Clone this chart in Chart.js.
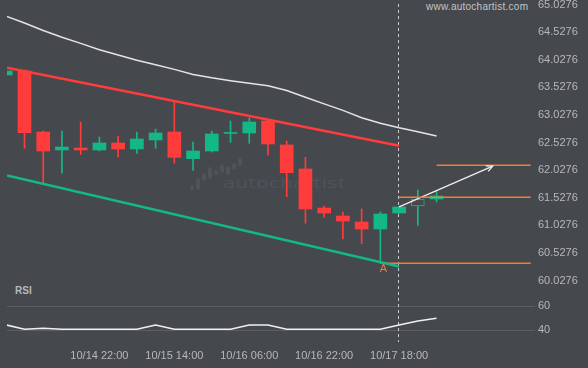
<!DOCTYPE html>
<html>
<head>
<meta charset="utf-8">
<script src="https://cdn.jsdelivr.net/npm/chart.js@4.4.0/dist/chart.umd.min.js"></script>
<style>
  html, body { margin: 0; padding: 0; background: #45484d; }
  #wrap { position: relative; width: 588px; height: 368px; overflow: hidden; background: #45484d; font-family: "Liberation Sans", Arial, sans-serif; }
  #priceChart { position: absolute; left: 0; top: 0; }
  #rsiChart { position: absolute; left: 0; top: 286px; }
  .txt { position: absolute; white-space: nowrap; }
  .logo { position: absolute; background: #505358; border-radius: 2px; }
</style>
</head>
<body>
<div id="wrap">
  <div class="logo" style="left:190px;top:185px;width:4px;height:5px"></div>
  <div class="logo" style="left:196px;top:178px;width:4px;height:12px"></div>
  <div class="logo" style="left:202px;top:173px;width:4px;height:8px"></div>
  <div class="logo" style="left:208px;top:167px;width:4px;height:12px"></div>
  <div class="logo" style="left:214px;top:170px;width:4px;height:5px"></div>
  <div class="logo" style="left:220px;top:164px;width:4px;height:9px"></div>
  <div class="logo" style="left:226px;top:166px;width:4px;height:9px"></div>
  <div class="logo" style="left:232px;top:163px;width:4px;height:7px"></div>
  <div class="logo" style="left:238px;top:158px;width:4px;height:8px"></div>
  <div class="txt" style="left:223px;top:174px;font-family:'DejaVu Sans',sans-serif;font-size:14px;line-height:18px;color:#505358;transform:scaleX(1.45);transform-origin:0 0;">autochartist</div>
  <div class="txt" style="left:426px;top:1px;font-size:10px;letter-spacing:0.25px;color:#c3c5c8;">www.autochartist.com</div>
  <div class="txt" style="left:15px;top:285px;font-size:10px;font-weight:bold;color:#b6b8bb;">RSI</div>
  <canvas id="priceChart" width="588" height="286"></canvas>
  <canvas id="rsiChart" width="588" height="82"></canvas>
</div>
<script>
// candles, one per 4h bar
const candleIdx = [0, 1, 2, 3, 4, 5, 6, 7, 8, 9, 10, 11, 12, 13, 14, 15, 16, 17, 18, 19, 20, 21, 22, 23];
const opens  = [63.750, 63.823, 62.718, 62.392, 62.428, 62.392, 62.519, 62.410, 62.573, 62.718, 62.234, 62.374, 62.692, 62.700, 62.917, 62.483, 62.048, 61.341, 61.196, 61.087, 60.961, 61.250, 61.377, 61.504];
const closes = [63.823, 62.705, 62.374, 62.446, 62.392, 62.519, 62.410, 62.591, 62.700, 62.259, 62.374, 62.682, 62.710, 62.899, 62.501, 61.980, 61.323, 61.250, 61.105, 60.961, 61.232, 61.359, 61.504, 61.558];
const highs  = [63.823, 63.840, 62.736, 62.736, 62.899, 62.627, 62.645, 62.718, 62.772, 63.261, 62.537, 62.736, 62.917, 62.971, 62.953, 62.555, 62.259, 61.377, 61.268, 61.323, 61.268, 61.370, 61.667, 61.649];
const lows   = [63.750, 62.423, 61.789, 61.970, 62.310, 62.374, 62.265, 62.332, 62.423, 62.151, 62.024, 62.355, 62.531, 62.513, 62.296, 61.546, 61.064, 61.173, 60.780, 60.694, 60.339, 61.245, 61.028, 61.450];
const upperBand = [64.819, 64.692, 64.557, 64.433, 64.323, 64.207, 64.113, 64.017, 63.935, 63.852, 63.761, 63.700, 63.647, 63.600, 63.555, 63.468, 63.346, 63.227, 63.109, 62.975, 62.875, 62.794, 62.721, 62.645];
const rsiValues = [44.5, 40.8, 41.6, 40.8, 40.8, 40.8, 40.8, 40.8, 44.4, 40.8, 40.8, 40.8, 40.8, 44.4, 44.4, 40.8, 40.8, 40.8, 40.8, 40.8, 40.8, 44.4, 47.7, 49.9];

// pattern lines [index, price]
const resistance = [[0.07, 63.88], [21, 62.47]];
const support = [[0.07, 61.93], [21, 60.28]];
const forecast = [[21, 61.36], [26, 62.10]];
const levelLast = [[21, 61.535], [28.03, 61.535]];
const levelTarget = [[23, 62.115], [28.03, 62.115]];
const levelLow = [[20, 60.339], [28.03, 60.339]];
const pointA = { idx: 20, price: 60.339, label: 'A' };

const nowIdx = 21;
const hollowIdx = 22;
const tickIdx = [5, 9, 13, 17, 21];
const tickLabels = ['10/14 22:00', '10/15 14:00', '10/16 06:00', '10/16 22:00', '10/17 18:00'];
const priceTicks = [60.0276, 60.5276, 61.0276, 61.5276, 62.0276, 62.5276, 63.0276, 63.5276, 64.0276, 64.5276, 65.0276];
const rsiTicks = [40, 60];

const bg = '#45484d';
const up = '#14b886';
const down = '#ff3c3c';
const orange = '#f47a35';
const tickColor = '#b6b8bb';
const xMin = 0.066, xMax = 28.256;

const pts = arr => arr.map(p => ({ x: p[0], y: p[1] }));
const isUp = candleIdx.map(i => closes[i] >= opens[i]);

const nowLine = {
    id: 'nowLine',
    beforeDatasetsDraw(chart, args, opts) {
        const { ctx, scales } = chart;
        const x = Math.round(scales.x.getPixelForValue(nowIdx)) - 0.5;
        ctx.save();
        ctx.strokeStyle = '#c9cbcd';
        ctx.lineWidth = 1;
        ctx.setLineDash([3, 3]);
        ctx.beginPath();
        ctx.moveTo(x, opts.top);
        ctx.lineTo(x, opts.bottom);
        ctx.stroke();
        ctx.restore();
    }
};

const marks = {
    id: 'marks',
    afterDatasetsDraw(chart) {
        const { ctx, scales } = chart;
        const x = scales.x, y = scales.y;
        // arrow head
        const x0 = x.getPixelForValue(forecast[0][0]), y0 = y.getPixelForValue(forecast[0][1]);
        const x1 = x.getPixelForValue(forecast[1][0]), y1 = y.getPixelForValue(forecast[1][1]);
        const ang = Math.atan2(y1 - y0, x1 - x0);
        ctx.save();
        ctx.strokeStyle = '#eeeeee';
        ctx.lineWidth = 1.3;
        ctx.beginPath();
        ctx.moveTo(x1 + 7 * Math.cos(ang + Math.PI - 0.45), y1 + 7 * Math.sin(ang + Math.PI - 0.45));
        ctx.lineTo(x1, y1);
        ctx.lineTo(x1 + 7 * Math.cos(ang + Math.PI + 0.45), y1 + 7 * Math.sin(ang + Math.PI + 0.45));
        ctx.stroke();
        // point label
        ctx.fillStyle = orange;
        ctx.font = '11px "Liberation Sans", Arial, sans-serif';
        ctx.textAlign = 'center';
        ctx.textBaseline = 'middle';
        ctx.fillText(pointA.label, x.getPixelForValue(pointA.idx) + 3, y.getPixelForValue(pointA.price) + 6);
        ctx.restore();
    }
};

const lineDs = (data, color, width) => ({
    type: 'line', data: pts(data), borderColor: color, borderWidth: width,
    pointRadius: 0, tension: 0, fill: false, order: 0
});

new Chart(document.getElementById('priceChart').getContext('2d'), {
    type: 'bar',
    data: {
        datasets: [
            {
                label: 'body',
                data: candleIdx.map(i => ({ x: i, y: [opens[i], closes[i]] })),
                backgroundColor: candleIdx.map(i => i === hollowIdx ? bg : (isUp[i] ? up : down)),
                borderColor: candleIdx.map(i => isUp[i] ? up : down),
                borderWidth: candleIdx.map(i => i === hollowIdx ? 1 : 0),
                borderSkipped: false,
                barThickness: 13,
                grouped: false,
                order: 1
            },
            {
                label: 'wick',
                data: candleIdx.map(i => ({ x: i, y: [lows[i], highs[i]] })),
                backgroundColor: candleIdx.map(i => isUp[i] ? up : down),
                borderWidth: 0,
                barThickness: 1,
                grouped: false,
                order: 2
            },
            lineDs(candleIdx.map(i => [i, upperBand[i]]), '#e4e4e4', 1.5),
            lineDs(resistance, '#ff3c3c', 2.5),
            lineDs(support, '#14b886', 2.5),
            lineDs(levelLast, orange, 1.6),
            lineDs(levelTarget, orange, 1.6),
            lineDs(levelLow, orange, 1.6),
            lineDs(forecast, '#eeeeee', 1.3)
        ]
    },
    options: {
        responsive: false,
        animation: false,
        devicePixelRatio: 1,
        layout: { padding: { left: 7, right: 0, top: 0, bottom: 0 } },
        plugins: { legend: { display: false }, tooltip: { enabled: false }, nowLine: { top: 4, bottom: 286 } },
        scales: {
            x: { type: 'linear', min: xMin, max: xMax, offset: false, display: false },
            y: {
                position: 'right',
                min: 59.928, max: 65.1091,
                grid: { display: false, drawTicks: false },
                border: { display: false },
                afterBuildTicks: s => { s.ticks = priceTicks.map(v => ({ value: v })); },
                afterFit: s => { s.width = 53; s.paddingTop = 0; s.paddingBottom = 0; },
                ticks: {
                    padding: 3, color: tickColor,
                    font: { family: '"Liberation Sans", Arial, sans-serif', size: 11 },
                    callback: v => v.toFixed(4)
                }
            }
        }
    },
    plugins: [nowLine, marks]
});

new Chart(document.getElementById('rsiChart').getContext('2d'), {
    type: 'line',
    data: {
        datasets: [{
            data: candleIdx.map(i => ({ x: i, y: rsiValues[i] })),
            borderColor: '#f0f0f0', borderWidth: 1.5, pointRadius: 0, tension: 0, fill: false
        }]
    },
    options: {
        responsive: false,
        animation: false,
        devicePixelRatio: 1,
        layout: { padding: { left: 7, right: 0, top: 0, bottom: 0 } },
        plugins: { legend: { display: false }, tooltip: { enabled: false }, nowLine: { top: 0, bottom: 56 } },
        scales: {
            x: {
                type: 'linear', min: xMin, max: xMax, offset: false,
                grid: { display: false, drawTicks: false },
                border: { display: false },
                afterBuildTicks: s => { s.ticks = tickIdx.map(v => ({ value: v })); },
                afterFit: s => { s.height = 28; s.paddingLeft = 0; s.paddingRight = 0; },
                ticks: {
                    padding: 9, color: tickColor, autoSkip: false, maxRotation: 0,
                    font: { family: '"Liberation Sans", Arial, sans-serif', size: 11 },
                    callback: (v, i) => tickLabels[i]
                }
            },
            y: {
                position: 'right',
                min: 32.02, max: 76.46,
                grid: { color: '#5a5e62', lineWidth: 1, drawTicks: false },
                border: { display: false },
                afterBuildTicks: s => { s.ticks = rsiTicks.map(v => ({ value: v })); },
                afterFit: s => { s.width = 53; s.paddingTop = 0; s.paddingBottom = 0; },
                ticks: {
                    padding: 3, color: tickColor,
                    font: { family: '"Liberation Sans", Arial, sans-serif', size: 11 }
                }
            }
        }
    },
    plugins: [nowLine]
});
</script>
</body>
</html>
